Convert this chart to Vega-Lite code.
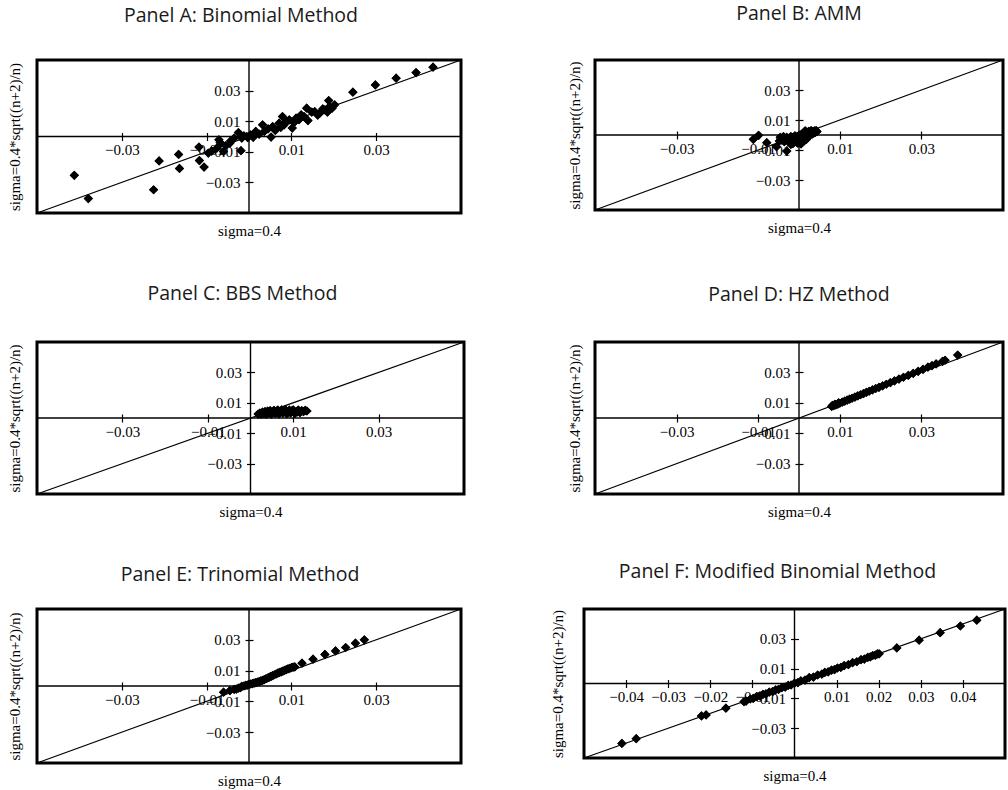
{
"$schema": "https://vega.github.io/schema/vega-lite/v6.json",
"background": "white",
"padding": {"left": 5, "top": 2, "right": 0, "bottom": 0},
"config": {
  "view": {"stroke": "black", "strokeWidth": 3},
  "axis": {"domain": false, "grid": false, "tickColor": "black", "tickSize": 8, "tickWidth": 1.2,
    "labelFont": "Liberation Serif", "labelFontSize": 15, "labelColor": "black",
    "titleFont": "Liberation Serif", "titleFontSize": 15, "titleFontWeight": "normal", "titleColor": "black",
    "format": ".2f", "labelOverlap": false, "labelFlush": false, "titleBaseline": "alphabetic"},
  "axisX": {"labelPadding": 2},
  "axisY": {"labelPadding": 5},
  "title": {"font": "Open Sans", "fontSize": 19.5, "fontWeight": "normal", "color": "#1a1a1a", "anchor": "middle"},
  "point": {"shape": "diamond", "filled": true, "size": 85, "color": "black", "opacity": 1, "strokeWidth": 0}
},
"datasets": {
  "diag": [{"x": -0.05, "y": -0.05}, {"x": 0.05, "y": 0.05}],
  "zero": [{"v": 0}],
  "A": [
    {"x": -0.0412, "y": -0.0254}, {"x": -0.0379, "y": -0.0406}, {"x": -0.0225, "y": -0.0348}, {"x": -0.0212, "y": -0.0160},
    {"x": -0.0166, "y": -0.0117}, {"x": -0.0164, "y": -0.0209}, {"x": -0.0118, "y": -0.0069}, {"x": -0.0117, "y": -0.0157},
    {"x": -0.0106, "y": -0.0200}, {"x": -0.0096, "y": -0.0108}, {"x": -0.0088, "y": -0.0095}, {"x": -0.0076, "y": -0.0076},
    {"x": -0.0071, "y": -0.0022}, {"x": -0.0068, "y": -0.0040}, {"x": -0.0060, "y": -0.0098}, {"x": -0.0055, "y": -0.0060},
    {"x": -0.0045, "y": -0.0043}, {"x": -0.0043, "y": -0.0028}, {"x": -0.0035, "y": -0.0010}, {"x": -0.0025, "y": 0.0026},
    {"x": -0.0019, "y": -0.0093}, {"x": -0.0017, "y": -0.0010}, {"x": -0.0012, "y": 0.0005}, {"x": -0.0005, "y": 0.0000},
    {"x": -0.0003, "y": -0.0007},
    {"x": 0.0004, "y": 0.0011}, {"x": 0.0010, "y": -0.0005}, {"x": 0.0016, "y": 0.0033}, {"x": 0.0024, "y": 0.0015},
    {"x": 0.0032, "y": 0.0076}, {"x": 0.0036, "y": 0.0033}, {"x": 0.0045, "y": 0.0050}, {"x": 0.0052, "y": -0.0004},
    {"x": 0.0056, "y": 0.0065}, {"x": 0.0062, "y": 0.0040}, {"x": 0.0071, "y": 0.0087}, {"x": 0.0075, "y": 0.0060},
    {"x": 0.0079, "y": 0.0130}, {"x": 0.0083, "y": 0.0076}, {"x": 0.0088, "y": 0.0100}, {"x": 0.0095, "y": 0.0109},
    {"x": 0.0102, "y": 0.0055}, {"x": 0.0106, "y": 0.0090}, {"x": 0.0111, "y": 0.0120}, {"x": 0.0118, "y": 0.0110},
    {"x": 0.0123, "y": 0.0142}, {"x": 0.0130, "y": 0.0130}, {"x": 0.0136, "y": 0.0185}, {"x": 0.0139, "y": 0.0104},
    {"x": 0.0148, "y": 0.0160}, {"x": 0.0155, "y": 0.0163}, {"x": 0.0162, "y": 0.0140}, {"x": 0.0167, "y": 0.0152},
    {"x": 0.0174, "y": 0.0180}, {"x": 0.0179, "y": 0.0174}, {"x": 0.0185, "y": 0.0160}, {"x": 0.0188, "y": 0.0235},
    {"x": 0.0190, "y": 0.0196}, {"x": 0.0196, "y": 0.0185}, {"x": 0.0202, "y": 0.0207}, {"x": 0.0245, "y": 0.0290},
    {"x": 0.0298, "y": 0.0337}, {"x": 0.0347, "y": 0.0381}, {"x": 0.0394, "y": 0.0418}, {"x": 0.0434, "y": 0.0453}
  ],
  "B": [
    {"x": -0.0112, "y": -0.0029}, {"x": -0.0099, "y": -0.0002}, {"x": -0.0079, "y": -0.0051}, {"x": -0.0055, "y": -0.0078},
    {"x": -0.0030, "y": -0.0107},
    {"x": -0.0042, "y": -0.0035}, {"x": -0.0040, "y": -0.0020}, {"x": -0.0036, "y": -0.0045}, {"x": -0.0033, "y": -0.0028},
    {"x": -0.0030, "y": -0.0015}, {"x": -0.0027, "y": -0.0040}, {"x": -0.0025, "y": -0.0022}, {"x": -0.0022, "y": -0.0050},
    {"x": -0.0020, "y": -0.0010}, {"x": -0.0018, "y": -0.0032}, {"x": -0.0015, "y": -0.0018}, {"x": -0.0012, "y": -0.0045},
    {"x": -0.0010, "y": -0.0005}, {"x": -0.0008, "y": -0.0028}, {"x": -0.0005, "y": -0.0012}, {"x": -0.0003, "y": -0.0055},
    {"x": 0.0000, "y": -0.0002}, {"x": 0.0002, "y": -0.0035}, {"x": 0.0004, "y": -0.0018}, {"x": 0.0006, "y": 0.0005},
    {"x": 0.0008, "y": -0.0040}, {"x": 0.0010, "y": -0.0010}, {"x": 0.0012, "y": 0.0012}, {"x": 0.0014, "y": -0.0025},
    {"x": 0.0016, "y": 0.0000}, {"x": 0.0018, "y": 0.0020}, {"x": 0.0020, "y": -0.0015}, {"x": 0.0022, "y": 0.0008},
    {"x": 0.0024, "y": 0.0025}, {"x": 0.0026, "y": -0.0005}, {"x": 0.0028, "y": 0.0015}, {"x": 0.0030, "y": 0.0030},
    {"x": 0.0032, "y": 0.0005}, {"x": 0.0034, "y": 0.0022}, {"x": 0.0036, "y": 0.0012}, {"x": 0.0038, "y": 0.0028},
    {"x": 0.0040, "y": 0.0018}, {"x": -0.0045, "y": -0.0028}, {"x": -0.0038, "y": -0.0010}, {"x": 0.0000, "y": -0.0045},
    {"x": -0.0015, "y": -0.0058}, {"x": 0.0005, "y": -0.0060}, {"x": -0.0048, "y": -0.0040}, {"x": -0.0046, "y": -0.0015},
    {"x": -0.0010, "y": -0.0035}, {"x": -0.0006, "y": -0.0048}, {"x": 0.0002, "y": -0.0025}, {"x": 0.0008, "y": -0.0022},
    {"x": 0.0012, "y": -0.0040}, {"x": 0.0018, "y": -0.0030}, {"x": 0.0024, "y": 0.0000}, {"x": 0.0030, "y": 0.0010},
    {"x": 0.0042, "y": 0.0030}, {"x": 0.0044, "y": 0.0022}, {"x": -0.0020, "y": -0.0062}, {"x": 0.0015, "y": 0.0028}
  ],
  "C": [
    {"x": 0.0018, "y": 0.0026}, {"x": 0.0022, "y": 0.0032}, {"x": 0.0025, "y": 0.0025}, {"x": 0.0028, "y": 0.0038},
    {"x": 0.0031, "y": 0.0028}, {"x": 0.0034, "y": 0.0042}, {"x": 0.0037, "y": 0.0025}, {"x": 0.0040, "y": 0.0045},
    {"x": 0.0043, "y": 0.0032}, {"x": 0.0046, "y": 0.0048}, {"x": 0.0049, "y": 0.0026}, {"x": 0.0052, "y": 0.0040},
    {"x": 0.0055, "y": 0.0050}, {"x": 0.0058, "y": 0.0030}, {"x": 0.0061, "y": 0.0045}, {"x": 0.0064, "y": 0.0052},
    {"x": 0.0067, "y": 0.0027}, {"x": 0.0070, "y": 0.0040}, {"x": 0.0073, "y": 0.0053}, {"x": 0.0076, "y": 0.0032},
    {"x": 0.0079, "y": 0.0047}, {"x": 0.0082, "y": 0.0054}, {"x": 0.0085, "y": 0.0028}, {"x": 0.0088, "y": 0.0042},
    {"x": 0.0091, "y": 0.0052}, {"x": 0.0094, "y": 0.0034}, {"x": 0.0097, "y": 0.0047}, {"x": 0.0100, "y": 0.0054},
    {"x": 0.0104, "y": 0.0030}, {"x": 0.0108, "y": 0.0044}, {"x": 0.0112, "y": 0.0052}, {"x": 0.0116, "y": 0.0036},
    {"x": 0.0120, "y": 0.0048}, {"x": 0.0124, "y": 0.0042}, {"x": 0.0128, "y": 0.0050}, {"x": 0.0132, "y": 0.0046},
    {"x": 0.0060, "y": 0.0035}, {"x": 0.0090, "y": 0.0038}, {"x": 0.0110, "y": 0.0040}
  ],
  "D": [
    {"x": 0.0080, "y": 0.0076}, {"x": 0.0082, "y": 0.0083}, {"x": 0.0085, "y": 0.0081}, {"x": 0.0088, "y": 0.0090},
    {"x": 0.0090, "y": 0.0086}, {"x": 0.0095, "y": 0.0092}, {"x": 0.0097, "y": 0.0099}, {"x": 0.0100, "y": 0.0097},
    {"x": 0.0106, "y": 0.0104}, {"x": 0.0112, "y": 0.0111}, {"x": 0.0118, "y": 0.0117}, {"x": 0.0124, "y": 0.0124},
    {"x": 0.0130, "y": 0.0130}, {"x": 0.0137, "y": 0.0138}, {"x": 0.0144, "y": 0.0146}, {"x": 0.0151, "y": 0.0153},
    {"x": 0.0158, "y": 0.0161}, {"x": 0.0165, "y": 0.0169}, {"x": 0.0172, "y": 0.0176}, {"x": 0.0180, "y": 0.0185},
    {"x": 0.0188, "y": 0.0194}, {"x": 0.0196, "y": 0.0202}, {"x": 0.0205, "y": 0.0212}, {"x": 0.0214, "y": 0.0222},
    {"x": 0.0224, "y": 0.0233}, {"x": 0.0234, "y": 0.0244}, {"x": 0.0245, "y": 0.0256}, {"x": 0.0256, "y": 0.0268},
    {"x": 0.0268, "y": 0.0281}, {"x": 0.0280, "y": 0.0294}, {"x": 0.0292, "y": 0.0307}, {"x": 0.0304, "y": 0.0320},
    {"x": 0.0316, "y": 0.0334}, {"x": 0.0326, "y": 0.0345}, {"x": 0.0336, "y": 0.0356}, {"x": 0.0352, "y": 0.0373},
    {"x": 0.0358, "y": 0.0380}, {"x": 0.0389, "y": 0.0414}
  ],
  "E": [
    {"x": -0.0060, "y": -0.0040}, {"x": -0.0045, "y": -0.0030}, {"x": -0.0035, "y": -0.0022}, {"x": -0.0030, "y": -0.0020},
    {"x": -0.0025, "y": -0.0014}, {"x": -0.0020, "y": -0.0010}, {"x": -0.0017, "y": -0.0002}, {"x": -0.0012, "y": 0.0000},
    {"x": -0.0008, "y": 0.0004}, {"x": -0.0004, "y": 0.0006}, {"x": 0.0000, "y": 0.0010}, {"x": 0.0004, "y": 0.0013},
    {"x": 0.0008, "y": 0.0016}, {"x": 0.0012, "y": 0.0019}, {"x": 0.0016, "y": 0.0022}, {"x": 0.0020, "y": 0.0025},
    {"x": 0.0024, "y": 0.0029}, {"x": 0.0028, "y": 0.0033}, {"x": 0.0032, "y": 0.0037}, {"x": 0.0036, "y": 0.0042},
    {"x": 0.0040, "y": 0.0047}, {"x": 0.0044, "y": 0.0052}, {"x": 0.0048, "y": 0.0057}, {"x": 0.0052, "y": 0.0062},
    {"x": 0.0056, "y": 0.0068}, {"x": 0.0060, "y": 0.0073}, {"x": 0.0064, "y": 0.0078}, {"x": 0.0068, "y": 0.0083},
    {"x": 0.0072, "y": 0.0088}, {"x": 0.0076, "y": 0.0092}, {"x": 0.0080, "y": 0.0097}, {"x": 0.0084, "y": 0.0102},
    {"x": 0.0088, "y": 0.0107}, {"x": 0.0092, "y": 0.0111}, {"x": 0.0096, "y": 0.0115}, {"x": 0.0100, "y": 0.0119},
    {"x": 0.0104, "y": 0.0122}, {"x": 0.0108, "y": 0.0124}, {"x": 0.0125, "y": 0.0148}, {"x": 0.0151, "y": 0.0174},
    {"x": 0.0179, "y": 0.0205}, {"x": 0.0204, "y": 0.0228}, {"x": 0.0228, "y": 0.0250}, {"x": 0.0251, "y": 0.0278},
    {"x": 0.0272, "y": 0.0300}
  ],
  "F": [
    {"x": -0.0410, "y": -0.0402}, {"x": -0.0376, "y": -0.0370}, {"x": -0.0221, "y": -0.0218}, {"x": -0.0210, "y": -0.0211},
    {"x": -0.0163, "y": -0.0166}, {"x": -0.0120, "y": -0.0122}, {"x": -0.0115, "y": -0.0118}, {"x": -0.0105, "y": -0.0104},
    {"x": -0.0098, "y": -0.0100}, {"x": -0.0090, "y": -0.0088}, {"x": -0.0082, "y": -0.0083}, {"x": -0.0075, "y": -0.0073},
    {"x": -0.0068, "y": -0.0070}, {"x": -0.0060, "y": -0.0058}, {"x": -0.0052, "y": -0.0054}, {"x": -0.0045, "y": -0.0043},
    {"x": -0.0038, "y": -0.0040}, {"x": -0.0030, "y": -0.0028}, {"x": -0.0022, "y": -0.0024}, {"x": -0.0015, "y": -0.0013},
    {"x": -0.0008, "y": -0.0010}, {"x": 0.0000, "y": 0.0002}, {"x": 0.0008, "y": 0.0006}, {"x": 0.0015, "y": 0.0017},
    {"x": 0.0025, "y": 0.0023}, {"x": 0.0035, "y": 0.0040}, {"x": 0.0045, "y": 0.0043}, {"x": 0.0055, "y": 0.0057},
    {"x": 0.0065, "y": 0.0063}, {"x": 0.0072, "y": 0.0074}, {"x": 0.0080, "y": 0.0078}, {"x": 0.0088, "y": 0.0090},
    {"x": 0.0095, "y": 0.0093}, {"x": 0.0102, "y": 0.0104}, {"x": 0.0110, "y": 0.0108}, {"x": 0.0118, "y": 0.0120},
    {"x": 0.0128, "y": 0.0126}, {"x": 0.0138, "y": 0.0140}, {"x": 0.0148, "y": 0.0146}, {"x": 0.0158, "y": 0.0160},
    {"x": 0.0166, "y": 0.0164}, {"x": 0.0174, "y": 0.0176}, {"x": 0.0180, "y": 0.0178}, {"x": 0.0186, "y": 0.0188},
    {"x": 0.0192, "y": 0.0190}, {"x": 0.0197, "y": 0.0199}, {"x": 0.0201, "y": 0.0199}, {"x": 0.0243, "y": 0.0239},
    {"x": 0.0296, "y": 0.0291}, {"x": 0.0346, "y": 0.0341}, {"x": 0.0394, "y": 0.0386}, {"x": 0.0433, "y": 0.0425}
  ]
},
"spacing": 39,
"vconcat": [
 {"spacing": 42, "vconcat": [
 {"spacing": 100, "hconcat": [
  {"width": 424, "height": 153, "title": {"text": "Panel A: Binomial Method", "offset": 31, "dx": -8},
   "layer": [
    {"data": {"name": "A"}, "mark": "point", "encoding": {
      "x": {"field": "x", "type": "quantitative", "scale": {"domain": [-0.05, 0.05], "nice": false}, "axis": {"title": "sigma=0.4", "values": [-0.03, -0.01, 0.01, 0.03], "offset": -80.5, "titleY": 102.5}},
      "y": {"field": "y", "type": "quantitative", "scale": {"domain": [-0.05, 0.05], "nice": false}, "axis": {"title": "sigma=0.4*sqrt((n+2)/n)", "values": [-0.03, -0.01, 0.01, 0.03], "offset": -216, "titleX": -234}}}},
    {"data": {"name": "zero"}, "mark": {"type": "rule", "color": "black", "strokeWidth": 1.4}, "encoding": {"y": {"datum": 0, "type": "quantitative"}}},
    {"data": {"name": "zero"}, "mark": {"type": "rule", "color": "black", "strokeWidth": 1.4}, "encoding": {"x": {"datum": 0, "type": "quantitative"}}},
    {"data": {"name": "diag"}, "mark": {"type": "line", "color": "black", "strokeWidth": 1.2}, "encoding": {"x": {"field": "x", "type": "quantitative"}, "y": {"field": "y", "type": "quantitative"}}},
    {"data": {"name": "A"}, "mark": "point", "encoding": {"x": {"field": "x", "type": "quantitative"}, "y": {"field": "y", "type": "quantitative"}}}
   ]},
  {"width": 408, "height": 150, "title": {"text": "Panel B: AMM", "offset": 33},
   "layer": [
    {"data": {"name": "B"}, "mark": "point", "encoding": {
      "x": {"field": "x", "type": "quantitative", "scale": {"domain": [-0.05, 0.05], "nice": false}, "axis": {"title": "sigma=0.4", "values": [-0.03, -0.01, 0.01, 0.03], "offset": -79, "titleY": 101}},
      "y": {"field": "y", "type": "quantitative", "scale": {"domain": [-0.05, 0.05], "nice": false}, "axis": {"title": "sigma=0.4*sqrt((n+2)/n)", "values": [-0.03, -0.01, 0.01, 0.03], "offset": -208, "titleX": -224}}}},
    {"data": {"name": "zero"}, "mark": {"type": "rule", "color": "black", "strokeWidth": 1.4}, "encoding": {"y": {"datum": 0, "type": "quantitative"}}},
    {"data": {"name": "zero"}, "mark": {"type": "rule", "color": "black", "strokeWidth": 1.4}, "encoding": {"x": {"datum": 0, "type": "quantitative"}}},
    {"data": {"name": "diag"}, "mark": {"type": "line", "color": "black", "strokeWidth": 1.2}, "encoding": {"x": {"field": "x", "type": "quantitative"}, "y": {"field": "y", "type": "quantitative"}}},
    {"data": {"name": "B"}, "mark": "point", "encoding": {"x": {"field": "x", "type": "quantitative"}, "y": {"field": "y", "type": "quantitative"}}}
   ]}
 ]},
 {"spacing": 97, "hconcat": [
  {"width": 427, "height": 152, "title": {"text": "Panel C: BBS Method", "offset": 35, "dx": -8},
   "layer": [
    {"data": {"name": "C"}, "mark": "point", "encoding": {
      "x": {"field": "x", "type": "quantitative", "scale": {"domain": [-0.05, 0.05], "nice": false}, "axis": {"title": "sigma=0.4", "values": [-0.03, -0.01, 0.01, 0.03], "offset": -80, "titleY": 102}},
      "y": {"field": "y", "type": "quantitative", "scale": {"domain": [-0.05, 0.05], "nice": false}, "axis": {"title": "sigma=0.4*sqrt((n+2)/n)", "values": [-0.03, -0.01, 0.01, 0.03], "offset": -217.5, "titleX": -235.5}}}},
    {"data": {"name": "zero"}, "mark": {"type": "rule", "color": "black", "strokeWidth": 1.4}, "encoding": {"y": {"datum": 0, "type": "quantitative"}}},
    {"data": {"name": "zero"}, "mark": {"type": "rule", "color": "black", "strokeWidth": 1.4}, "encoding": {"x": {"datum": 0, "type": "quantitative"}}},
    {"data": {"name": "diag"}, "mark": {"type": "line", "color": "black", "strokeWidth": 1.2}, "encoding": {"x": {"field": "x", "type": "quantitative"}, "y": {"field": "y", "type": "quantitative"}}},
    {"data": {"name": "C"}, "mark": "point", "encoding": {"x": {"field": "x", "type": "quantitative"}, "y": {"field": "y", "type": "quantitative"}}}
   ]},
  {"width": 408, "height": 152, "title": {"text": "Panel D: HZ Method", "offset": 34},
   "layer": [
    {"data": {"name": "D"}, "mark": "point", "encoding": {
      "x": {"field": "x", "type": "quantitative", "scale": {"domain": [-0.05, 0.05], "nice": false}, "axis": {"title": "sigma=0.4", "values": [-0.03, -0.01, 0.01, 0.03], "offset": -80, "titleY": 102}},
      "y": {"field": "y", "type": "quantitative", "scale": {"domain": [-0.05, 0.05], "nice": false}, "axis": {"title": "sigma=0.4*sqrt((n+2)/n)", "values": [-0.03, -0.01, 0.01, 0.03], "offset": -208, "titleX": -224}}}},
    {"data": {"name": "zero"}, "mark": {"type": "rule", "color": "black", "strokeWidth": 1.4}, "encoding": {"y": {"datum": 0, "type": "quantitative"}}},
    {"data": {"name": "zero"}, "mark": {"type": "rule", "color": "black", "strokeWidth": 1.4}, "encoding": {"x": {"datum": 0, "type": "quantitative"}}},
    {"data": {"name": "diag"}, "mark": {"type": "line", "color": "black", "strokeWidth": 1.2}, "encoding": {"x": {"field": "x", "type": "quantitative"}, "y": {"field": "y", "type": "quantitative"}}},
    {"data": {"name": "D"}, "mark": "point", "encoding": {"x": {"field": "x", "type": "quantitative"}, "y": {"field": "y", "type": "quantitative"}}}
   ]}
 ]}
 ]},
 {"spacing": 83, "hconcat": [
  {"width": 424, "height": 154, "title": {"text": "Panel E: Trinomial Method", "offset": 21, "dx": -9},
   "layer": [
    {"data": {"name": "E"}, "mark": "point", "encoding": {
      "x": {"field": "x", "type": "quantitative", "scale": {"domain": [-0.05, 0.05], "nice": false}, "axis": {"title": "sigma=0.4", "values": [-0.03, -0.01, 0.01, 0.03], "offset": -81, "titleY": 103}},
      "y": {"field": "y", "type": "quantitative", "scale": {"domain": [-0.05, 0.05], "nice": false}, "axis": {"title": "sigma=0.4*sqrt((n+2)/n)", "values": [-0.03, -0.01, 0.01, 0.03], "offset": -216, "titleX": -234}}}},
    {"data": {"name": "zero"}, "mark": {"type": "rule", "color": "black", "strokeWidth": 1.4}, "encoding": {"y": {"datum": 0, "type": "quantitative"}}},
    {"data": {"name": "zero"}, "mark": {"type": "rule", "color": "black", "strokeWidth": 1.4}, "encoding": {"x": {"datum": 0, "type": "quantitative"}}},
    {"data": {"name": "diag"}, "mark": {"type": "line", "color": "black", "strokeWidth": 1.2}, "encoding": {"x": {"field": "x", "type": "quantitative"}, "y": {"field": "y", "type": "quantitative"}}},
    {"data": {"name": "E"}, "mark": "point", "encoding": {"x": {"field": "x", "type": "quantitative"}, "y": {"field": "y", "type": "quantitative"}}}
   ]},
  {"width": 421, "height": 149, "title": {"text": "Panel F: Modified Binomial Method", "offset": 24, "dx": -17},
   "layer": [
    {"data": {"name": "F"}, "mark": "point", "encoding": {
      "x": {"field": "x", "type": "quantitative", "scale": {"domain": [-0.05, 0.05], "nice": false}, "axis": {"title": "sigma=0.4", "values": [-0.04, -0.03, -0.02, -0.01, 0.01, 0.02, 0.03, 0.04], "offset": -78.5, "titleY": 100.5}},
      "y": {"field": "y", "type": "quantitative", "scale": {"domain": [-0.05, 0.05], "nice": false}, "axis": {"title": "sigma=0.4*sqrt((n+2)/n)", "values": [-0.03, -0.01, 0.01, 0.03], "offset": -214.5, "titleX": -236.5}}}},
    {"data": {"name": "zero"}, "mark": {"type": "rule", "color": "black", "strokeWidth": 1.4}, "encoding": {"y": {"datum": 0, "type": "quantitative"}}},
    {"data": {"name": "zero"}, "mark": {"type": "rule", "color": "black", "strokeWidth": 1.4}, "encoding": {"x": {"datum": 0, "type": "quantitative"}}},
    {"data": {"name": "diag"}, "mark": {"type": "line", "color": "black", "strokeWidth": 1.2}, "encoding": {"x": {"field": "x", "type": "quantitative"}, "y": {"field": "y", "type": "quantitative"}}},
    {"data": {"name": "F"}, "mark": "point", "encoding": {"x": {"field": "x", "type": "quantitative"}, "y": {"field": "y", "type": "quantitative"}}}
   ]}
 ]}
]
}
